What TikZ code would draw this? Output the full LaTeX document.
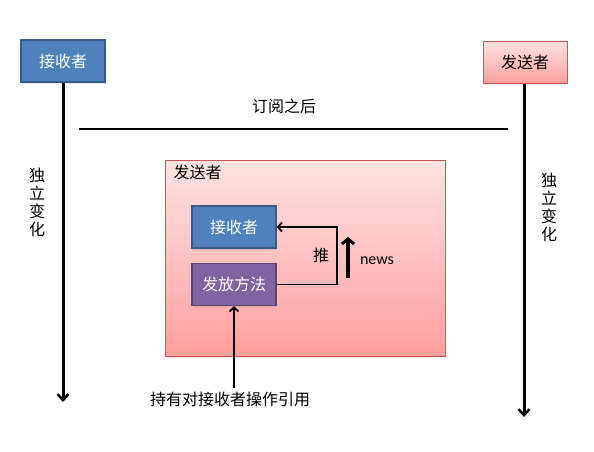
\documentclass[tikz,border=0pt]{standalone}
\usepackage{fontspec}
\setmainfont{Noto Sans CJK SC}
\newfontfamily\latinfont{Carlito}
\usetikzlibrary{positioning,arrows.meta,shadows}

\definecolor{recvblue}{HTML}{4F81BD}
\definecolor{recvedge}{HTML}{385D8A}
\definecolor{methpurple}{HTML}{8064A2}
\definecolor{methedge}{HTML}{5C4776}
\definecolor{sendtop}{HTML}{FFE3E3}
\definecolor{sendbottom}{HTML}{FF9F9F}
\definecolor{sendedge}{HTML}{CC5555}

\tikzset{
  box/.style={minimum width=84pt,minimum height=42pt,inner sep=0pt,
    drop shadow={opacity=0.2,shadow xshift=1pt,shadow yshift=-1.5pt}},
  bluebox/.style={box,fill=recvblue,draw=recvedge,line width=1.5pt,text=white},
  purplebox/.style={box,fill=methpurple,draw=methedge,line width=1.5pt,text=white},
  pinkbox/.style={box,top color=sendtop,bottom color=sendbottom,draw=sendedge,line width=1pt},
  lifeline/.style={line width=3pt,-{Straight Barb[length=6pt,width=11pt,line width=2.5pt]}},
  push/.style={line width=1.8pt,-{Straight Barb[length=4pt,width=9pt]}},
  stack/.style={align=center,font=\fontsize{16}{18}\selectfont}
}

\begin{document}
\begin{tikzpicture}[x=1pt,y=-1pt,font=\fontsize{16}{19}\selectfont]
\useasboundingbox (0,0) rectangle (594,451);

% the two sides
\node[bluebox] (recv) at (63,61) {接收者};
\node[pinkbox] (send) at (525,62) {发送者};
\coordinate (recvend) at (63,402);
\coordinate (sendend) at (524,417);
\draw[lifeline] (recv) -- (recvend);
\draw[lifeline] (send.south -| sendend) -- (sendend);
\node[stack] (lchange) at (37,202) {独\\立\\变\\化};
\node[stack] (rchange) at (549,207) {独\\立\\变\\化};

% after subscribing
\node (after) at (284,106) {订阅之后};
\coordinate (subl) at (79,129);
\coordinate (subr) at (508,129);
\draw[line width=2pt] (subl) -- (subr);

% the sender, opened up
\node[pinkbox,minimum width=280pt,minimum height=196pt] (frame) at (305,258) {};
\node[anchor=west,inner sep=0pt,xshift=9pt,yshift=-12.5pt] (ftitle) at (frame.north west) {发送者};
\node[bluebox] (inrecv) at (234,227) {接收者};
\node[purplebox,below=14pt of inrecv] (method) {发放方法};

\draw[push] (method.east) -- ++(60,0) |- (inrecv.east);
\node (pushlbl) at (321,255) {推};
\draw[line width=3.5pt,-{Straight Barb[length=5pt,width=12pt,line width=3pt]}] (348,278) -- (348,237);
\node[font=\latinfont\fontsize{16}{18}\selectfont] (news) at (377,261) {news};

\node (hold) at (230,399) {持有对接收者操作引用};
\draw[push] (method.south |- hold.north) -- (method.south);
\end{tikzpicture}
\end{document}
